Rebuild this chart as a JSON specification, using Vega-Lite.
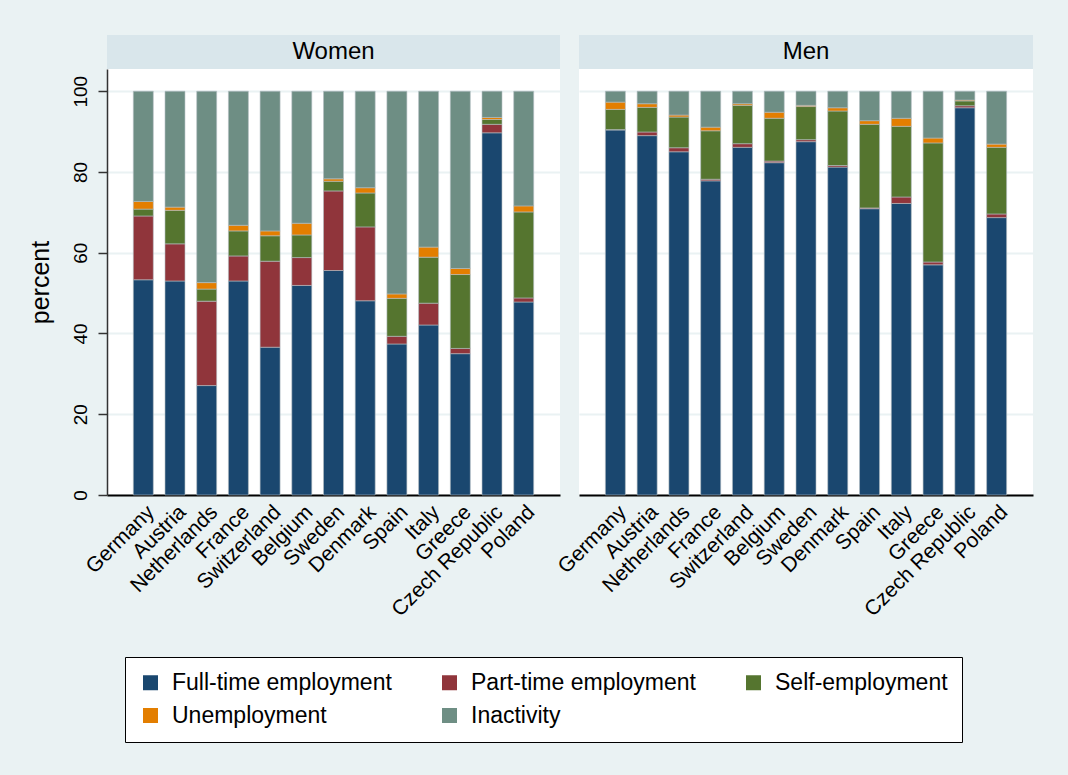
{
  "$schema": "https://vega.github.io/schema/vega-lite/v6.json",
  "background": "#EAF2F3",
  "padding": {"left": 28, "top": 35, "right": 36, "bottom": 34},
  "data": {
    "values": [
      {"sex": "Women", "country": "Germany", "status": "Full-time employment", "rank": 1, "pct": 53.3},
      {"sex": "Women", "country": "Germany", "status": "Part-time employment", "rank": 2, "pct": 15.8},
      {"sex": "Women", "country": "Germany", "status": "Self-employment", "rank": 3, "pct": 1.7},
      {"sex": "Women", "country": "Germany", "status": "Unemployment", "rank": 4, "pct": 1.9},
      {"sex": "Women", "country": "Germany", "status": "Inactivity", "rank": 5, "pct": 27.3},
      {"sex": "Women", "country": "Austria", "status": "Full-time employment", "rank": 1, "pct": 53.0},
      {"sex": "Women", "country": "Austria", "status": "Part-time employment", "rank": 2, "pct": 9.2},
      {"sex": "Women", "country": "Austria", "status": "Self-employment", "rank": 3, "pct": 8.3},
      {"sex": "Women", "country": "Austria", "status": "Unemployment", "rank": 4, "pct": 0.8},
      {"sex": "Women", "country": "Austria", "status": "Inactivity", "rank": 5, "pct": 28.7},
      {"sex": "Women", "country": "Netherlands", "status": "Full-time employment", "rank": 1, "pct": 27.1},
      {"sex": "Women", "country": "Netherlands", "status": "Part-time employment", "rank": 2, "pct": 20.9},
      {"sex": "Women", "country": "Netherlands", "status": "Self-employment", "rank": 3, "pct": 3.0},
      {"sex": "Women", "country": "Netherlands", "status": "Unemployment", "rank": 4, "pct": 1.6},
      {"sex": "Women", "country": "Netherlands", "status": "Inactivity", "rank": 5, "pct": 47.4},
      {"sex": "Women", "country": "France", "status": "Full-time employment", "rank": 1, "pct": 53.0},
      {"sex": "Women", "country": "France", "status": "Part-time employment", "rank": 2, "pct": 6.2},
      {"sex": "Women", "country": "France", "status": "Self-employment", "rank": 3, "pct": 6.2},
      {"sex": "Women", "country": "France", "status": "Unemployment", "rank": 4, "pct": 1.4},
      {"sex": "Women", "country": "France", "status": "Inactivity", "rank": 5, "pct": 33.2},
      {"sex": "Women", "country": "Switzerland", "status": "Full-time employment", "rank": 1, "pct": 36.6},
      {"sex": "Women", "country": "Switzerland", "status": "Part-time employment", "rank": 2, "pct": 21.3},
      {"sex": "Women", "country": "Switzerland", "status": "Self-employment", "rank": 3, "pct": 6.3},
      {"sex": "Women", "country": "Switzerland", "status": "Unemployment", "rank": 4, "pct": 1.2},
      {"sex": "Women", "country": "Switzerland", "status": "Inactivity", "rank": 5, "pct": 34.6},
      {"sex": "Women", "country": "Belgium", "status": "Full-time employment", "rank": 1, "pct": 51.9},
      {"sex": "Women", "country": "Belgium", "status": "Part-time employment", "rank": 2, "pct": 6.9},
      {"sex": "Women", "country": "Belgium", "status": "Self-employment", "rank": 3, "pct": 5.6},
      {"sex": "Women", "country": "Belgium", "status": "Unemployment", "rank": 4, "pct": 2.9},
      {"sex": "Women", "country": "Belgium", "status": "Inactivity", "rank": 5, "pct": 32.7},
      {"sex": "Women", "country": "Sweden", "status": "Full-time employment", "rank": 1, "pct": 55.6},
      {"sex": "Women", "country": "Sweden", "status": "Part-time employment", "rank": 2, "pct": 19.7},
      {"sex": "Women", "country": "Sweden", "status": "Self-employment", "rank": 3, "pct": 2.4},
      {"sex": "Women", "country": "Sweden", "status": "Unemployment", "rank": 4, "pct": 0.6},
      {"sex": "Women", "country": "Sweden", "status": "Inactivity", "rank": 5, "pct": 21.7},
      {"sex": "Women", "country": "Denmark", "status": "Full-time employment", "rank": 1, "pct": 48.1},
      {"sex": "Women", "country": "Denmark", "status": "Part-time employment", "rank": 2, "pct": 18.3},
      {"sex": "Women", "country": "Denmark", "status": "Self-employment", "rank": 3, "pct": 8.4},
      {"sex": "Women", "country": "Denmark", "status": "Unemployment", "rank": 4, "pct": 1.3},
      {"sex": "Women", "country": "Denmark", "status": "Inactivity", "rank": 5, "pct": 23.9},
      {"sex": "Women", "country": "Spain", "status": "Full-time employment", "rank": 1, "pct": 37.4},
      {"sex": "Women", "country": "Spain", "status": "Part-time employment", "rank": 2, "pct": 1.9},
      {"sex": "Women", "country": "Spain", "status": "Self-employment", "rank": 3, "pct": 9.4},
      {"sex": "Women", "country": "Spain", "status": "Unemployment", "rank": 4, "pct": 1.1},
      {"sex": "Women", "country": "Spain", "status": "Inactivity", "rank": 5, "pct": 50.2},
      {"sex": "Women", "country": "Italy", "status": "Full-time employment", "rank": 1, "pct": 42.1},
      {"sex": "Women", "country": "Italy", "status": "Part-time employment", "rank": 2, "pct": 5.4},
      {"sex": "Women", "country": "Italy", "status": "Self-employment", "rank": 3, "pct": 11.4},
      {"sex": "Women", "country": "Italy", "status": "Unemployment", "rank": 4, "pct": 2.5},
      {"sex": "Women", "country": "Italy", "status": "Inactivity", "rank": 5, "pct": 38.6},
      {"sex": "Women", "country": "Greece", "status": "Full-time employment", "rank": 1, "pct": 35.0},
      {"sex": "Women", "country": "Greece", "status": "Part-time employment", "rank": 2, "pct": 1.3},
      {"sex": "Women", "country": "Greece", "status": "Self-employment", "rank": 3, "pct": 18.3},
      {"sex": "Women", "country": "Greece", "status": "Unemployment", "rank": 4, "pct": 1.5},
      {"sex": "Women", "country": "Greece", "status": "Inactivity", "rank": 5, "pct": 43.9},
      {"sex": "Women", "country": "Czech Republic", "status": "Full-time employment", "rank": 1, "pct": 89.7},
      {"sex": "Women", "country": "Czech Republic", "status": "Part-time employment", "rank": 2, "pct": 2.1},
      {"sex": "Women", "country": "Czech Republic", "status": "Self-employment", "rank": 3, "pct": 1.2},
      {"sex": "Women", "country": "Czech Republic", "status": "Unemployment", "rank": 4, "pct": 0.5},
      {"sex": "Women", "country": "Czech Republic", "status": "Inactivity", "rank": 5, "pct": 6.5},
      {"sex": "Women", "country": "Poland", "status": "Full-time employment", "rank": 1, "pct": 47.8},
      {"sex": "Women", "country": "Poland", "status": "Part-time employment", "rank": 2, "pct": 1.0},
      {"sex": "Women", "country": "Poland", "status": "Self-employment", "rank": 3, "pct": 21.3},
      {"sex": "Women", "country": "Poland", "status": "Unemployment", "rank": 4, "pct": 1.5},
      {"sex": "Women", "country": "Poland", "status": "Inactivity", "rank": 5, "pct": 28.4},
      {"sex": "Men", "country": "Germany", "status": "Full-time employment", "rank": 1, "pct": 90.4},
      {"sex": "Men", "country": "Germany", "status": "Part-time employment", "rank": 2, "pct": 0.1},
      {"sex": "Men", "country": "Germany", "status": "Self-employment", "rank": 3, "pct": 5.0},
      {"sex": "Men", "country": "Germany", "status": "Unemployment", "rank": 4, "pct": 1.8},
      {"sex": "Men", "country": "Germany", "status": "Inactivity", "rank": 5, "pct": 2.7},
      {"sex": "Men", "country": "Austria", "status": "Full-time employment", "rank": 1, "pct": 89.0},
      {"sex": "Men", "country": "Austria", "status": "Part-time employment", "rank": 2, "pct": 0.9},
      {"sex": "Men", "country": "Austria", "status": "Self-employment", "rank": 3, "pct": 6.1},
      {"sex": "Men", "country": "Austria", "status": "Unemployment", "rank": 4, "pct": 0.9},
      {"sex": "Men", "country": "Austria", "status": "Inactivity", "rank": 5, "pct": 3.1},
      {"sex": "Men", "country": "Netherlands", "status": "Full-time employment", "rank": 1, "pct": 85.0},
      {"sex": "Men", "country": "Netherlands", "status": "Part-time employment", "rank": 2, "pct": 1.0},
      {"sex": "Men", "country": "Netherlands", "status": "Self-employment", "rank": 3, "pct": 7.6},
      {"sex": "Men", "country": "Netherlands", "status": "Unemployment", "rank": 4, "pct": 0.5},
      {"sex": "Men", "country": "Netherlands", "status": "Inactivity", "rank": 5, "pct": 5.9},
      {"sex": "Men", "country": "France", "status": "Full-time employment", "rank": 1, "pct": 77.8},
      {"sex": "Men", "country": "France", "status": "Part-time employment", "rank": 2, "pct": 0.4},
      {"sex": "Men", "country": "France", "status": "Self-employment", "rank": 3, "pct": 12.0},
      {"sex": "Men", "country": "France", "status": "Unemployment", "rank": 4, "pct": 0.9},
      {"sex": "Men", "country": "France", "status": "Inactivity", "rank": 5, "pct": 8.9},
      {"sex": "Men", "country": "Switzerland", "status": "Full-time employment", "rank": 1, "pct": 86.1},
      {"sex": "Men", "country": "Switzerland", "status": "Part-time employment", "rank": 2, "pct": 0.9},
      {"sex": "Men", "country": "Switzerland", "status": "Self-employment", "rank": 3, "pct": 9.5},
      {"sex": "Men", "country": "Switzerland", "status": "Unemployment", "rank": 4, "pct": 0.4},
      {"sex": "Men", "country": "Switzerland", "status": "Inactivity", "rank": 5, "pct": 3.1},
      {"sex": "Men", "country": "Belgium", "status": "Full-time employment", "rank": 1, "pct": 82.3},
      {"sex": "Men", "country": "Belgium", "status": "Part-time employment", "rank": 2, "pct": 0.4},
      {"sex": "Men", "country": "Belgium", "status": "Self-employment", "rank": 3, "pct": 10.6},
      {"sex": "Men", "country": "Belgium", "status": "Unemployment", "rank": 4, "pct": 1.5},
      {"sex": "Men", "country": "Belgium", "status": "Inactivity", "rank": 5, "pct": 5.2},
      {"sex": "Men", "country": "Sweden", "status": "Full-time employment", "rank": 1, "pct": 87.5},
      {"sex": "Men", "country": "Sweden", "status": "Part-time employment", "rank": 2, "pct": 0.5},
      {"sex": "Men", "country": "Sweden", "status": "Self-employment", "rank": 3, "pct": 8.2},
      {"sex": "Men", "country": "Sweden", "status": "Unemployment", "rank": 4, "pct": 0.3},
      {"sex": "Men", "country": "Sweden", "status": "Inactivity", "rank": 5, "pct": 3.5},
      {"sex": "Men", "country": "Denmark", "status": "Full-time employment", "rank": 1, "pct": 81.2},
      {"sex": "Men", "country": "Denmark", "status": "Part-time employment", "rank": 2, "pct": 0.4},
      {"sex": "Men", "country": "Denmark", "status": "Self-employment", "rank": 3, "pct": 13.5},
      {"sex": "Men", "country": "Denmark", "status": "Unemployment", "rank": 4, "pct": 0.8},
      {"sex": "Men", "country": "Denmark", "status": "Inactivity", "rank": 5, "pct": 4.1},
      {"sex": "Men", "country": "Spain", "status": "Full-time employment", "rank": 1, "pct": 70.9},
      {"sex": "Men", "country": "Spain", "status": "Part-time employment", "rank": 2, "pct": 0.2},
      {"sex": "Men", "country": "Spain", "status": "Self-employment", "rank": 3, "pct": 20.7},
      {"sex": "Men", "country": "Spain", "status": "Unemployment", "rank": 4, "pct": 0.9},
      {"sex": "Men", "country": "Spain", "status": "Inactivity", "rank": 5, "pct": 7.3},
      {"sex": "Men", "country": "Italy", "status": "Full-time employment", "rank": 1, "pct": 72.2},
      {"sex": "Men", "country": "Italy", "status": "Part-time employment", "rank": 2, "pct": 1.6},
      {"sex": "Men", "country": "Italy", "status": "Self-employment", "rank": 3, "pct": 17.5},
      {"sex": "Men", "country": "Italy", "status": "Unemployment", "rank": 4, "pct": 2.0},
      {"sex": "Men", "country": "Italy", "status": "Inactivity", "rank": 5, "pct": 6.7},
      {"sex": "Men", "country": "Greece", "status": "Full-time employment", "rank": 1, "pct": 57.0},
      {"sex": "Men", "country": "Greece", "status": "Part-time employment", "rank": 2, "pct": 0.7},
      {"sex": "Men", "country": "Greece", "status": "Self-employment", "rank": 3, "pct": 29.5},
      {"sex": "Men", "country": "Greece", "status": "Unemployment", "rank": 4, "pct": 1.2},
      {"sex": "Men", "country": "Greece", "status": "Inactivity", "rank": 5, "pct": 11.6},
      {"sex": "Men", "country": "Czech Republic", "status": "Full-time employment", "rank": 1, "pct": 95.9},
      {"sex": "Men", "country": "Czech Republic", "status": "Part-time employment", "rank": 2, "pct": 0.5},
      {"sex": "Men", "country": "Czech Republic", "status": "Self-employment", "rank": 3, "pct": 1.2},
      {"sex": "Men", "country": "Czech Republic", "status": "Unemployment", "rank": 4, "pct": 0.2},
      {"sex": "Men", "country": "Czech Republic", "status": "Inactivity", "rank": 5, "pct": 2.2},
      {"sex": "Men", "country": "Poland", "status": "Full-time employment", "rank": 1, "pct": 68.7},
      {"sex": "Men", "country": "Poland", "status": "Part-time employment", "rank": 2, "pct": 0.9},
      {"sex": "Men", "country": "Poland", "status": "Self-employment", "rank": 3, "pct": 16.5},
      {"sex": "Men", "country": "Poland", "status": "Unemployment", "rank": 4, "pct": 0.8},
      {"sex": "Men", "country": "Poland", "status": "Inactivity", "rank": 5, "pct": 13.1}
    ]
  },
  "spacing": -7,
  "hconcat": [
    {
      "spacing": 0,
      "bounds": "flush",
      "vconcat": [
        {
          "width": 453,
          "height": 34,
          "data": {"values": [{"label": "Women"}]},
          "view": {"fill": "#D9E6EB", "stroke": null},
          "mark": {"type": "text", "fontSize": 24, "color": "#000"},
          "encoding": {"text": {"field": "label"}}
        },
        {
          "width": 453,
          "height": 426,
          "view": {"fill": "#FFFFFF", "stroke": null},
          "transform": [{"filter": "datum.sex === 'Women'"}],
          "mark": {"type": "bar", "stroke": "#B4BEC3", "strokeWidth": 0.6},
          "encoding": {
            "x": {
              "field": "country",
              "type": "nominal",
              "sort": null,
              "title": null,
              "scale": {"paddingInner": 0.37, "paddingOuter": 0.83}
            },
            "y": {
              "field": "pct",
              "type": "quantitative",
              "stack": "zero",
              "title": "percent",
              "scale": {"domain": [0, 105.5], "nice": false},
              "axis": {"values": [0, 20, 40, 60, 80, 100]}
            },
            "color": {
              "field": "status",
              "type": "nominal",
              "scale": {
                "domain": ["Full-time employment", "Part-time employment", "Self-employment", "Unemployment", "Inactivity"],
                "range": ["#1A476F", "#90353B", "#55752F", "#E37E00", "#6E8E84"]
              }
            },
            "order": {"field": "rank"}
          }
        }
      ]
    },
    {
      "spacing": 0,
      "bounds": "flush",
      "vconcat": [
        {
          "width": 454,
          "height": 34,
          "data": {"values": [{"label": "Men"}]},
          "view": {"fill": "#D9E6EB", "stroke": null},
          "mark": {"type": "text", "fontSize": 24, "color": "#000"},
          "encoding": {"text": {"field": "label"}}
        },
        {
          "width": 454,
          "height": 426,
          "view": {"fill": "#FFFFFF", "stroke": null},
          "transform": [{"filter": "datum.sex === 'Men'"}],
          "mark": {"type": "bar", "stroke": "#B4BEC3", "strokeWidth": 0.6},
          "encoding": {
            "x": {
              "field": "country",
              "type": "nominal",
              "sort": null,
              "title": null,
              "scale": {"paddingInner": 0.37, "paddingOuter": 0.83}
            },
            "y": {
              "field": "pct",
              "type": "quantitative",
              "stack": "zero",
              "title": null,
              "scale": {"domain": [0, 105.5], "nice": false},
              "axis": {"values": [0, 20, 40, 60, 80, 100], "labels": false, "ticks": false, "domain": false}
            },
            "color": {"field": "status", "type": "nominal"},
            "order": {"field": "rank"}
          }
        }
      ]
    }
  ],
  "config": {
    "font": "Liberation Sans",
    "axisY": {
      "domainColor": "#333333",
      "domainWidth": 1.5,
      "tickColor": "#333333",
      "tickSize": 9,
      "tickWidth": 1.5,
      "labelAngle": 270,
      "labelFontSize": 19,
      "labelColor": "#000000",
      "labelPadding": 8,
      "titleFontSize": 25,
      "titleFontWeight": "normal",
      "titleColor": "#000000",
      "titlePadding": 18,
      "gridColor": "#EAF2F3",
      "gridWidth": 2
    },
    "axisX": {
      "domainColor": "#000000",
      "domainWidth": 2,
      "ticks": false,
      "labelAngle": -45,
      "labelFontSize": 21,
      "labelColor": "#000000",
      "labelPadding": 6,
      "grid": false
    },
    "legend": {
      "orient": "none",
      "legendX": 18,
      "legendY": 622,
      "title": null,
      "columns": 3,
      "direction": "horizontal",
      "gridAlign": "each",
      "strokeColor": "#000000",
      "fillColor": "#FFFFFF",
      "padding": 14,
      "symbolType": "square",
      "symbolSize": 225,
      "symbolStrokeWidth": 0,
      "symbolOpacity": 1,
      "labelFontSize": 23,
      "labelColor": "#000000",
      "labelOffset": 10,
      "labelLimit": 400,
      "columnPadding": 46,
      "rowPadding": 9
    }
  }
}
